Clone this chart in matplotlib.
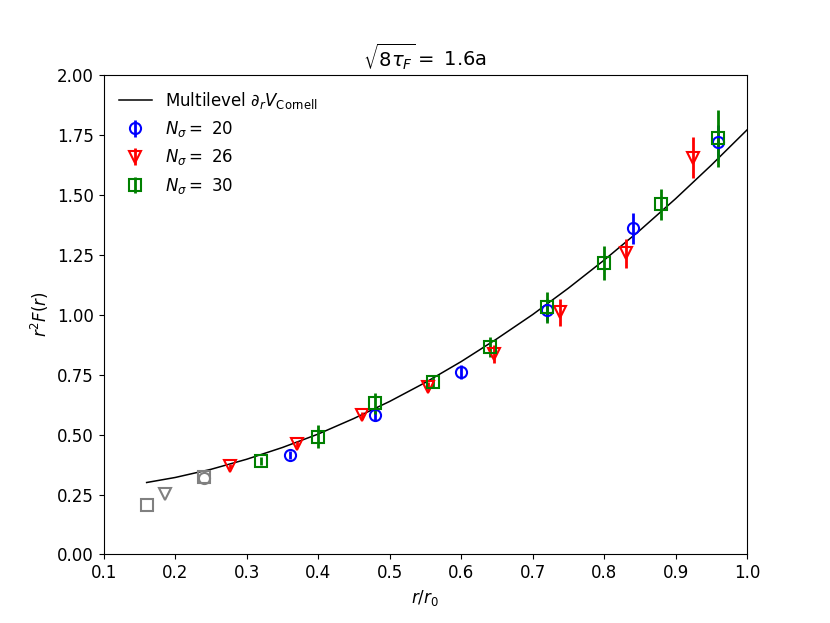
import numpy as np
import matplotlib
matplotlib.use("Agg")
import matplotlib.pyplot as plt

# fit curve
curve_x = [0.16, 0.20, 0.25, 0.30, 0.35, 0.40, 0.45, 0.50, 0.55, 0.60,
           0.65, 0.70, 0.75, 0.80, 0.85, 0.90, 0.95, 1.00]
curve_y = [0.300, 0.321, 0.355, 0.397, 0.446, 0.502, 0.567, 0.638, 0.717, 0.804,
           0.899, 1.000, 1.110, 1.227, 1.351, 1.483, 1.623, 1.770]

# N_sigma = 20
x20 = [0.36, 0.48, 0.60, 0.72, 0.84, 0.96]
y20 = [0.415, 0.58, 0.76, 1.02, 1.36, 1.72]
e20 = [0.015, 0.02, 0.03, 0.045, 0.065, 0.07]

# N_sigma = 26
x26 = [0.277, 0.370, 0.462, 0.554, 0.646, 0.739, 0.831, 0.924]
y26 = [0.367, 0.459, 0.58, 0.70, 0.835, 1.01, 1.255, 1.655]
e26 = [0.01, 0.012, 0.015, 0.02, 0.037, 0.056, 0.06, 0.085]

# N_sigma = 30
x30 = [0.32, 0.40, 0.48, 0.56, 0.64, 0.72, 0.80, 0.88, 0.96]
y30 = [0.39, 0.49, 0.63, 0.72, 0.865, 1.03, 1.215, 1.46, 1.735]
e30 = [0.015, 0.048, 0.045, 0.02, 0.042, 0.063, 0.07, 0.065, 0.12]

# short distance points (grey)
xg20, yg20 = [0.24], [0.318]
xg26, yg26 = [0.185], [0.252]
xg30, yg30 = [0.16, 0.24], [0.205, 0.322]

fig, ax = plt.subplots(figsize=(8.3, 6.23), dpi=100)

ax.plot(curve_x, curve_y, color='black', lw=1.1,
        label=r'Multilevel $\partial_r V_{\mathrm{Cornell}}$')

kw = dict(ls='none', ms=8, mfc='none', mew=1.5, elinewidth=2)
ax.errorbar(x20, y20, yerr=e20, fmt='o', color='blue', label=r'$N_\sigma =$ 20', **kw)
ax.errorbar(x26, y26, yerr=e26, fmt='v', color='red', label=r'$N_\sigma =$ 26', **kw)
ax.errorbar(x30, y30, yerr=e30, fmt='s', color='green', label=r'$N_\sigma =$ 30', **kw)

gkw = dict(ls='none', ms=8, mfc='none', mew=1.5, color='gray')
ax.plot(xg20, yg20, marker='o', **gkw)
ax.plot(xg26, yg26, marker='v', **gkw)
ax.plot(xg30, yg30, marker='s', **gkw)

ax.set_xlim(0.1, 1.0)
ax.set_ylim(0.0, 2.0)
ax.set_xticks(np.arange(0.1, 1.01, 0.1))
ax.set_yticks(np.arange(0.0, 2.01, 0.25))
ax.tick_params(labelsize=12)
ax.set_xlabel(r'$r/r_0$', fontsize=12)
ax.set_ylabel(r'$r^2F(r)$', fontsize=12)
ax.set_title(r'$\sqrt{8\tau_F}=$ 1.6a', fontsize=14)
ax.legend(loc='upper left', frameon=False, fontsize=12)

fig.savefig('out.png')
